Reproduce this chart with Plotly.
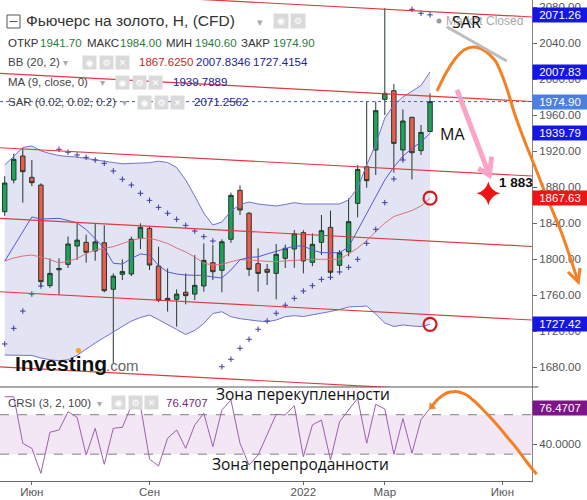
import plotly.graph_objects as go

# ---------------- data (weekly gold CFD) ----------------
weeks = list(range(48))
open_ = [1852.6, 1887.8, 1914.4, 1890.7, 1882.2, 1770.4, 1788.0, 1794.0, 1814.4, 1818.5,
         1808.9, 1818.1, 1766.3, 1783.0, 1783.3, 1823.0, 1834.0, 1792.2, 1756.3, 1755.2,
         1763.0, 1761.0, 1770.0, 1795.9, 1787.4, 1821.9, 1876.3, 1850.8, 1794.8, 1788.5,
         1784.0, 1800.7, 1811.1, 1829.3, 1796.3, 1818.5, 1835.2, 1793.0, 1808.1, 1861.8,
         1902.6, 1921.1, 1977.4, 1987.0, 1921.1, 1957.4, 1920.4, 1941.70]
high = [1892.0, 1917.0, 1923.0, 1910.0, 1884.0, 1800.7, 1800.7, 1825.0, 1839.6, 1827.0,
        1839.0, 1837.4, 1784.0, 1799.6, 1824.8, 1839.6, 1836.0, 1813.7, 1789.6, 1766.3,
        1784.0, 1804.4, 1817.4, 1815.6, 1821.9, 1873.7, 1881.8, 1852.0, 1811.9, 1794.4,
        1816.7, 1816.0, 1832.2, 1832.0, 1828.5, 1848.9, 1853.7, 1810.0, 1867.4, 1904.4,
        1974.8, 1975.0, 2078.8, 1994.4, 1966.3, 1958.0, 1948.9, 1984.00]
low = [1848.0, 1884.0, 1862.6, 1881.0, 1769.0, 1768.0, 1760.0, 1790.0, 1798.9, 1796.0,
       1798.0, 1763.0, 1684.0, 1776.7, 1781.0, 1811.0, 1787.8, 1752.0, 1741.5, 1724.8,
       1749.6, 1754.4, 1763.7, 1776.7, 1763.0, 1818.0, 1848.9, 1781.0, 1763.7, 1771.1,
       1755.2, 1790.0, 1790.3, 1784.0, 1792.0, 1804.4, 1779.6, 1784.8, 1803.0, 1846.3,
       1879.2, 1893.3, 1960.0, 1895.9, 1910.0, 1888.4, 1915.6, 1940.60]
close = [1884.4, 1910.7, 1897.0, 1884.8, 1774.8, 1784.0, 1789.5, 1816.7, 1821.0, 1807.4,
         1819.0, 1764.8, 1781.0, 1786.0, 1821.9, 1835.2, 1793.3, 1754.1, 1754.1, 1761.0,
         1759.3, 1770.7, 1798.5, 1785.9, 1819.2, 1870.7, 1854.4, 1788.5, 1784.0, 1785.2,
         1805.2, 1811.9, 1828.1, 1797.8, 1816.3, 1831.5, 1785.2, 1807.0, 1841.5, 1899.6,
         1887.0, 1964.8, 1984.1, 1928.5, 1953.3, 1918.1, 1940.7, 1974.90]
bb_upper = [1904.4, 1914.4, 1923.9, 1925.6, 1920.2, 1917.2, 1915.0, 1913.9, 1913.3, 1911.7,
            1910.0, 1908.6, 1907.2, 1905.8, 1906.1, 1906.7, 1907.0, 1908.6, 1907.2, 1901.7,
            1887.8, 1870.0, 1851.1, 1837.8, 1841.1, 1853.3, 1860.6, 1863.3, 1861.1, 1860.0,
            1858.9, 1860.6, 1862.6, 1861.1, 1861.1, 1861.1, 1861.1, 1861.1, 1865.6, 1878.9,
            1904.4, 1927.8, 1956.7, 1971.1, 1980.0, 1986.1, 1992.8, 2007.8346]
bb_mid = [1797.8, 1801.1, 1803.3, 1804.4, 1802.2, 1799.4, 1795.6, 1797.4, 1800.6, 1806.0,
          1810.0, 1812.2, 1813.7, 1817.2, 1820.6, 1823.0, 1823.0, 1820.6, 1817.2, 1812.2,
          1807.8, 1802.2, 1795.3, 1793.3, 1793.9, 1797.0, 1799.4, 1798.9, 1798.0, 1797.4,
          1797.2, 1797.8, 1799.1, 1799.7, 1799.7, 1799.7, 1799.7, 1799.7, 1805.6, 1812.2,
          1820.6, 1830.0, 1840.0, 1847.2, 1850.6, 1853.9, 1858.9, 1867.6250]
bb_lower = [1693.3, 1693.3, 1693.3, 1692.8, 1690.0, 1688.0, 1687.0, 1688.0, 1693.0, 1700.0,
            1706.7, 1712.8, 1718.9, 1725.0, 1731.1, 1735.0, 1737.8, 1732.6, 1726.7, 1721.7,
            1716.1, 1720.6, 1728.3, 1739.4, 1741.4, 1735.9, 1733.7, 1732.2, 1731.1, 1730.3,
            1732.2, 1735.9, 1737.0, 1736.1, 1737.8, 1740.0, 1741.7, 1743.9, 1746.7, 1747.2,
            1747.8, 1738.9, 1728.9, 1725.0, 1726.7, 1725.6, 1725.0, 1727.4154]
ma9 = [1797.6, 1814.0, 1830.4, 1846.7, 1844.4, 1844.4, 1845.2, 1842.8, 1840.0, 1832.8,
       1822.8, 1812.2, 1795.2, 1794.4, 1800.6, 1805.6, 1804.4, 1792.8, 1785.6, 1783.3,
       1782.2, 1782.2, 1781.7, 1780.0, 1778.9, 1787.8, 1799.1, 1801.8, 1802.4, 1805.6,
       1808.3, 1811.1, 1814.4, 1814.4, 1810.0, 1807.0, 1807.0, 1807.0, 1813.3, 1832.2,
       1850.0, 1870.0, 1887.8, 1902.2, 1914.4, 1922.8, 1930.0, 1939.7889]
sar = [1705.6, 1723.0, 1742.2, 1761.1, 1770.0, None, 1921.9, 1918.6, 1915.6, 1913.0,
       1910.0, 1906.3, 1897.8, 1888.6, 1882.2, 1873.0, 1865.2, 1857.4, 1850.8, 1844.1,
       1837.4, 1831.1, 1824.8, 1820.0, 1680.3, 1688.6, 1700.8, 1710.8, 1721.9, 1731.1,
       1739.7, 1748.6, 1756.3, 1764.4, 1770.3, 1777.4, 1779.7, 1785.6, 1790.8, 1799.7,
       1817.4, 1833.0, 1862.6, 1888.9, 1910.0, 2077.4, 2073.0, 2071.2562]
crsi = [88.2, 88.2, 41.0, 35.9, 10.6, 52.2, 54.5, 73.0, 67.4, 29.2,
        56.2, 19.7, 56.2, 57.2, 79.1, 79.1, 25.1, 18.0, 46.1, 54.5,
        35.9, 59.6, 71.4, 37.6, 74.8, 84.9, 41.0, 19.0, 29.2, 49.4,
        70.4, 69.7, 79.1, 27.4, 59.6, 64.6, 24.1, 62.9, 74.8, 86.6,
        41.0, 80.5, 75.8, 29.9, 66.0, 31.0, 65.0, 76.4707]

x_tick_pos = [3, 16, 33, 42, 55]
x_tick_text = ["Июн", "Сен", "2022", "Мар", "Июн"]
price_ticks = [1680, 1720, 1760, 1800, 1840, 1880, 1920, 1960, 2000, 2040, 2080]
crsi_ticks = [40]
crsi_zone = [30, 70]
channel_start = [2100.2, 2006.3, 1923.6, 1845.2, 1763.6, 1680.2]
channel_end = [2068.9, 1975.0, 1892.2, 1813.9, 1732.2, 1648.9]
target_label = "1 883"

# hand-drawn annotations (bar index, value)
arc_main = [(47.77, 1986.7), (48.76, 2006.7), (49.76, 2022.2), (50.75, 2032.2), (51.75, 2035.6),
            (52.74, 2033.3), (53.62, 2026.7), (54.29, 2018.9), (54.95, 2004.4), (55.61, 1985.6),
            (56.39, 1960.0), (57.49, 1930.0), (58.60, 1902.2), (60.03, 1865.6), (61.58, 1827.8),
            (63.35, 1775.6)]
arc_main_head = [(62.24, 1785.6), (63.38, 1774.4), (63.57, 1790.0)]
arc_crsi = [(47.18, 78.1), (47.77, 84.9), (48.46, 89.9), (48.99, 92.5), (49.57, 93.3),
            (50.20, 93.0), (51.05, 89.9), (51.86, 83.9), (52.88, 74.8), (53.73, 66.6),
            (54.73, 56.2), (55.61, 46.4), (56.57, 35.9), (57.60, 23.1), (58.78, 9.6)]
pink_arrow = [(49.98, 1987.8), (53.55, 1893.3)]
pink_head = [(52.33, 1900.8), (53.55, 1893.3), (53.81, 1913.7)]
grey_stroke = [(48.84, 2058.1), (55.47, 2020.0)]
star_pt = (53.44, 1873.0)

# ---------------- geometry ----------------
PW, PH = 532, 481
X0, DX = 4.7, 9.05
X_MIN = -X0 / DX
X_MAX = (PW - X0) / DX
D0 = (PH - 387) / PH
P_TOP = 1680 + 367 / 0.9
P_BOT = 1680 - 20 / 0.9
C_TOP = 40 + 57.3 / 0.987
C_BOT = 40 - 36.7 / 0.987

FONT = "Liberation Sans, Arial, sans-serif"
HAND = "Open Sans, Liberation Sans, sans-serif"


def fmt(v, n):
    return ("%." + str(n) + "f") % (v + 1e-9)


def xp(i):
    return (X0 + DX * i) / PW


def yp_main(p):
    return D0 + (p - P_BOT) / (P_TOP - P_BOT) * (1 - D0)


def yp_crsi(v):
    return (v - C_BOT) / (C_TOP - C_BOT) * D0


def smooth_path(pts):
    s = "M %.5f,%.5f" % pts[0]
    for k in range(len(pts) - 1):
        p0 = pts[k - 1] if k > 0 else pts[k]
        p1 = pts[k]
        p2 = pts[k + 1]
        p3 = pts[k + 2] if k + 2 < len(pts) else pts[k + 1]
        c1 = (p1[0] + (p2[0] - p0[0]) / 6, p1[1] + (p2[1] - p0[1]) / 6)
        c2 = (p2[0] - (p3[0] - p1[0]) / 6, p2[1] - (p3[1] - p1[1]) / 6)
        s += " C %.5f,%.5f %.5f,%.5f %.5f,%.5f" % (c1 + c2 + p2)
    return s


def poly_path(pts):
    return "M " + " L ".join("%.5f,%.5f" % p for p in pts)


fig = go.Figure()

# Bollinger band fill (as a shape below all traces so candles stay on top)
band_pts = list(zip(weeks, bb_upper)) + list(zip(weeks[::-1], bb_lower[::-1]))
fig.add_shape(type="path", xref="x", yref="y", path=poly_path(band_pts) + " Z",
              fillcolor="#e3e4f3", line=dict(width=0), layer="below")

fig.add_trace(go.Scatter(x=weeks, y=bb_lower, mode="lines", line=dict(color="#7272cf", width=1),
                         hoverinfo="skip"))
fig.add_trace(go.Scatter(x=weeks, y=bb_upper, mode="lines", line=dict(color="#7272cf", width=1),
                         hoverinfo="skip"))
fig.add_trace(go.Scatter(x=weeks, y=bb_mid, mode="lines", line=dict(color="#d9727a", width=1),
                         hoverinfo="skip"))
fig.add_trace(go.Scatter(x=weeks, y=ma9, mode="lines", line=dict(color="#5757d4", width=1),
                         hoverinfo="skip"))

# candles
fig.add_trace(go.Candlestick(
    x=weeks, open=open_, high=high, low=low, close=close, whiskerwidth=0,
    increasing=dict(fillcolor="#1fa35b", line=dict(color="#22392b", width=1)),
    decreasing=dict(fillcolor="#f05b4c", line=dict(color="#22392b", width=1)),
    hoverinfo="skip"))

# parabolic SAR
fig.add_trace(go.Scatter(x=weeks, y=sar, mode="markers",
                         marker=dict(symbol="cross-thin", size=4, line=dict(width=1, color="#3b3ba0")),
                         hoverinfo="skip"))

# channel lines
for a, b in zip(channel_start, channel_end):
    fig.add_trace(go.Scatter(x=[X_MIN, X_MAX], y=[a, b], mode="lines",
                             line=dict(color="#e03a40", width=1.2), hoverinfo="skip"))

# last price dotted line
fig.add_trace(go.Scatter(x=[X_MIN, X_MAX], y=[close[-1], close[-1]], mode="lines",
                         line=dict(color="#4060c0", width=1, dash="dot"), hoverinfo="skip"))

# red circles on BB mid / lower ends
fig.add_trace(go.Scatter(x=[weeks[-1], weeks[-1]], y=[bb_mid[-1], bb_lower[-1]], mode="markers",
                         marker=dict(symbol="circle-open", size=13, color="#d41a1a",
                                     line=dict(width=2.2, color="#d41a1a")),
                         cliponaxis=False, hoverinfo="skip"))
# red star
fig.add_trace(go.Scatter(x=[star_pt[0]], y=[star_pt[1]], mode="markers",
                         marker=dict(symbol="star-diamond", size=17, color="#ee1414"),
                         cliponaxis=False, hoverinfo="skip"))

# CRSI panel
fig.add_shape(type="rect", xref="paper", yref="y2", x0=0, x1=1, y0=crsi_zone[0], y1=crsi_zone[1],
              fillcolor="#f3e7f5", line=dict(width=0), layer="below")
for v in crsi_zone:
    fig.add_shape(type="line", xref="paper", yref="y2", x0=0, x1=1, y0=v, y1=v,
                  line=dict(color="#808080", width=1, dash="dash"), layer="below")
fig.add_trace(go.Scatter(x=weeks, y=crsi, mode="lines", line=dict(color="#9d5fae", width=1),
                         xaxis="x", yaxis="y2", hoverinfo="skip"))
fig.add_trace(go.Scatter(x=[arc_crsi[0][0]], y=[arc_crsi[0][1]], mode="markers", xaxis="x", yaxis="y2",
                         marker=dict(symbol="triangle-up", angle=225, size=8, color="#f38025"),
                         cliponaxis=False, hoverinfo="skip"))

# panel separator
fig.add_shape(type="line", xref="paper", yref="paper", x0=0, x1=1.012, y0=D0, y1=D0,
              line=dict(color="#555555", width=1))

# hand-drawn strokes
ORANGE = "#f38025"
fig.add_shape(type="path", xref="paper", yref="paper",
              path=smooth_path([(xp(a), yp_main(b)) for a, b in arc_main]),
              line=dict(color=ORANGE, width=3))
fig.add_shape(type="path", xref="paper", yref="paper",
              path=poly_path([(xp(a), yp_main(b)) for a, b in arc_main_head]),
              line=dict(color=ORANGE, width=3))
fig.add_shape(type="path", xref="paper", yref="paper",
              path=smooth_path([(xp(a), yp_crsi(b)) for a, b in arc_crsi]),
              line=dict(color=ORANGE, width=3))
fig.add_shape(type="path", xref="paper", yref="paper",
              path=poly_path([(xp(a), yp_main(b)) for a, b in pink_arrow]),
              line=dict(color="#fba4c8", width=5))
fig.add_shape(type="path", xref="paper", yref="paper",
              path=poly_path([(xp(a), yp_main(b)) for a, b in pink_head]),
              line=dict(color="#fba4c8", width=5))
fig.add_shape(type="path", xref="paper", yref="paper",
              path=poly_path([(xp(a), yp_main(b)) for a, b in grey_stroke]),
              line=dict(color="#bdbdbd", width=3))


# ---------------- text helpers ----------------
def px2paper(x, y):
    return x / PW, (PH - y) / PH


def label(text, x, y, size=11.5, color="#333333", family=FONT, anchor="left"):
    px_, py_ = px2paper(x, y)
    fig.add_annotation(x=px_, y=py_, xref="paper", yref="paper", text=text, showarrow=False,
                       xanchor=anchor, yanchor="middle", borderpad=0,
                       font=dict(size=size, color=color, family=family))


def icon(x, y, glyph, s=13):
    px_, py_ = px2paper(x, y)
    fig.add_annotation(x=px_, y=py_, xref="paper", yref="paper", text=glyph, showarrow=False,
                       xanchor="left", yanchor="middle", width=s - 2, height=s - 2, borderpad=1,
                       bgcolor="#dadada", font=dict(size=9, color="white", family="DejaVu Sans"))


GREY = "#aaaaaa"
NAVY = "#22229a"

# title line with collapse box
x_a, y_a = px2paper(7, 15)
x_b, y_b = px2paper(20, 28)
fig.add_shape(type="rect", xref="paper", yref="paper", x0=x_a, x1=x_b, y0=y_b, y1=y_a,
              line=dict(color="#555555", width=1))
x_c, y_c = px2paper(9.5, 21.5)
x_d, _ = px2paper(17.5, 21.5)
fig.add_shape(type="line", xref="paper", yref="paper", x0=x_c, x1=x_d, y0=y_c, y1=y_c,
              line=dict(color="#555555", width=1))
label("Фьючерс на золото, Н, (CFD)", 25, 21, size=15.5, color="#333333")
label("▾", 256, 22, size=11, color=GREY)
icon(273, 21, "◉", 14)
icon(290, 21, "⚙", 14)

# OHLC line
ohlc_parts = [("ОТКР", 7, "#333333"), (fmt(open_[-1], 2), 39, "#2a7d3c"),
              ("МАКС", 86, "#333333"), (fmt(high[-1], 2), 119, "#2a7d3c"),
              ("МИН", 165, "#333333"), (fmt(low[-1], 2), 194, "#2a7d3c"),
              ("ЗАКР", 240, "#333333"), (fmt(close[-1], 2), 272, "#2a7d3c")]
for t, x, c in ohlc_parts:
    label(t, x, 43, color=c)

# indicator lines
label("BB (20, 2)", 7, 62.5, color="#444444")
label("▾", 62, 63, size=10, color=GREY)
for k, g in enumerate(["◉", "⚙", "✕"]):
    icon(82 + 16.5 * k, 62.5, g)
label(fmt(bb_mid[-1], 4), 138, 62.5, color="#c62828")
label(fmt(bb_upper[-1], 4), 195, 62.5, color=NAVY)
label(fmt(bb_lower[-1], 4), 252, 62.5, color=NAVY)

label("MA (9, close, 0)", 7, 82.5, color="#444444")
label("▾", 99, 83, size=10, color=GREY)
for k, g in enumerate(["◉", "⚙", "✕"]):
    icon(115 + 16.5 * k, 82.5, g)
label(fmt(ma9[-1], 4), 172, 82.5, color=NAVY)

label("SAR (0.02, 0.02, 0.2)", 7, 102.5, color="#444444")
label("▾", 121, 103, size=10, color=GREY)
for k, g in enumerate(["◉", "⚙", "✕"]):
    icon(137 + 16.5 * k, 102.5, g)
label(fmt(sar[-1], 4), 193, 102.5, color=NAVY)

label("CRSI (3, 2, 100)", 7, 402.5, color="#444444")
label("▾", 96, 403, size=10, color=GREY)
for k, g in enumerate(["◉", "⚙", "✕"]):
    icon(111 + 16.5 * k, 402.5, g)
label(fmt(crsi[-1], 4), 165, 402.5, color="#7b1f7b")

# Investing.com logo
label("<b>Investing</b>", 14, 363, size=21, color="#111111")
label(".com", 105, 366, size=15, color="#666666")
lx, ly = px2paper(78.5, 350.5)
fig.add_shape(type="circle", xref="paper", yref="paper", x0=lx - 2.6 / PW, x1=lx + 2.6 / PW,
              y0=ly - 2.6 / PH, y1=ly + 2.6 / PH, fillcolor="#f5a623", line=dict(width=0))

# market closed
mx, my = px2paper(439, 21)
fig.add_shape(type="circle", xref="paper", yref="paper", x0=mx - 2.5 / PW, x1=mx + 2.5 / PW,
              y0=my - 2.5 / PH, y1=my + 2.5 / PH, fillcolor="#999999", line=dict(width=0))
label("Market Closed", 445, 21, size=12, color=GREY)

# hand annotations
label("SAR", 466, 22.5, size=16, color="#111111", family=HAND, anchor="center")
label("MA", 452, 134, size=16, color="#111111", family=HAND, anchor="center")
label("<b>%s</b>" % target_label, 516, 182, size=13.5, color="#111111", family=FONT, anchor="center")
label("Зона перекупленности", 303, 394, size=15.5, color="#111111", family=HAND, anchor="center")
label("Зона перепроданности", 300, 464, size=15.5, color="#111111", family=HAND, anchor="center")

# right-axis value boxes
BLUE = "#1616e2"
boxes = [(sar[-1], BLUE), (bb_upper[-1], BLUE), (close[-1], "#4c7fe2"),
         (ma9[-1], BLUE), (bb_mid[-1], "#ec1616"), (bb_lower[-1], BLUE)]
for v, c in boxes:
    fig.add_annotation(x=1.0, y=v, xref="paper", yref="y", text=fmt(v, 2), showarrow=False,
                       xanchor="left", yanchor="middle", width=52, height=12, borderpad=1,
                       bgcolor=c, font=dict(size=11.5, color="white", family=FONT))
fig.add_annotation(x=1.0, y=crsi[-1], xref="paper", yref="y2", text=fmt(crsi[-1], 4), showarrow=False,
                   xanchor="left", yanchor="middle", width=52, height=12, borderpad=1,
                   bgcolor="#7d1487", font=dict(size=11.5, color="white", family=FONT))

tickfont = dict(size=11.5, color="#555555", family=FONT)
fig.update_layout(
    width=587, height=500, margin=dict(l=0, r=55, t=0, b=19),
    paper_bgcolor="white", plot_bgcolor="white", showlegend=False,
    xaxis=dict(domain=[0, 1], range=[X_MIN, X_MAX], anchor="y2", tickmode="array",
               tickvals=x_tick_pos, ticktext=x_tick_text, ticks="outside", ticklen=3,
               tickcolor="#666666", showline=True, linecolor="#666666", linewidth=1,
               showgrid=False, zeroline=False, rangeslider=dict(visible=False),
               ticklabelstandoff=-3,
               tickfont=dict(size=11.5, color="#555555", family=FONT), automargin=False),
    yaxis=dict(domain=[D0, 1], range=[P_BOT, P_TOP], side="right", anchor="x",
               tickmode="array", tickvals=price_ticks, tickformat=".2f", ticks="outside",
               ticklen=4, tickcolor="#666666", showline=True, linecolor="#888888",
               showgrid=False, zeroline=False, tickfont=tickfont, automargin=False),
    yaxis2=dict(domain=[0, D0], range=[C_BOT, C_TOP], side="right", anchor="x",
                tickmode="array", tickvals=crsi_ticks, tickformat=".4f", ticks="outside",
                ticklen=4, tickcolor="#666666", showline=True, linecolor="#888888",
                showgrid=False, zeroline=False, tickfont=tickfont, automargin=False),
)

fig.write_html("out.html", config={"displayModeBar": False},
               post_script="document.body.style.margin='0px';document.body.style.overflow='hidden';")
